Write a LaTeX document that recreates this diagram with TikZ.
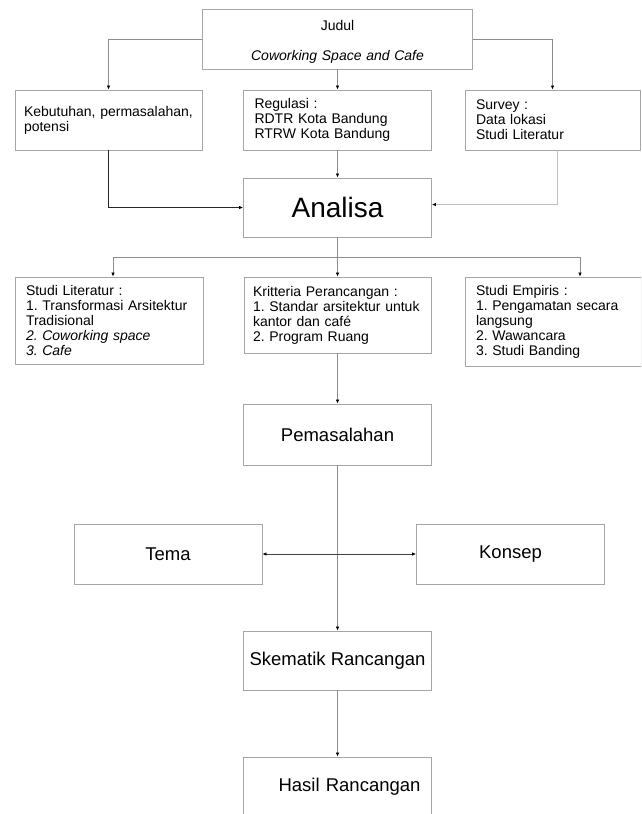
\documentclass[tikz,border=0pt]{standalone}
\usepackage{fontspec}
\setmainfont{Liberation Sans}
\usepackage{tikz}
\usetikzlibrary{arrows.meta,positioning,calc}
\frenchspacing

\newcommand{\bodyfont}{\fontsize{14}{15}\selectfont}
\newcommand{\midfont}{\fontsize{18.5}{20}\selectfont}
\newcommand{\hugefont}{\fontsize{28}{30}\selectfont}

\tikzset{
  box/.style={draw=black!35,line width=0.9pt,inner xsep=11pt,inner ysep=0pt,font=\bodyfont,align=left},
  bigbox/.style={box,inner xsep=4pt,minimum width=188pt,align=center,font=\midfont},
  wire/.style={draw=black!45,line width=0.8pt},
  conn/.style={wire,-{Latex[length=4pt,width=3.6pt,color=black]}},
  lightconn/.style={conn,draw=black!25},
  darkconn/.style={conn,draw=black!85},
  twoway/.style={draw=black!75,line width=0.8pt,{Latex[length=4pt,width=3.6pt,color=black]}-{Latex[length=4pt,width=3.6pt,color=black]}}
}

\begin{document}
\begin{tikzpicture}[x=1pt,y=-1pt]
  \useasboundingbox (0,0) rectangle (641,814);
  \clip (0,0) rectangle (641,814);
  % title
  \node[box,text width=248pt,align=center,minimum height=60pt] (judul) at (337.5,39)
    {\rule{0pt}{16pt}Judul\\[15pt]\textit{Coworking Space and Cafe}};
  % second row
  \node[box,inner xsep=9pt,text width=169pt,minimum height=60pt] (needs) at (108.5,120)
    {Kebutuhan, permasalahan,\\potensi};
  \node[box,text width=166pt,minimum height=60pt] (regulasi) at (337.5,120)
    {Regulasi :\\RDTR Kota Bandung\\RTRW Kota Bandung};
  \node[box,text width=153pt,minimum height=60pt] (survey) at (552.5,120)
    {Survey :\\Data lokasi\\Studi Literatur};
  \node[box,text width=166pt,align=center,minimum height=59pt,font=\hugefont] (analisa) at (337.5,207.5) {Analisa};
  % third row
  \node[box,text width=166pt,minimum height=87pt] (studilit) at (109,320.5)
    {Studi Literatur :\\1. Transformasi Arsitektur\\Tradisional\\\textit{2. Coworking space}\\\textit{3. Cafe}};
  \node[box,inner xsep=9pt,text width=169pt,minimum height=76pt] (kriteria) at (337.5,315)
    {Kritteria Perancangan :\\1. Standar arsitektur untuk\\kantor dan café\\2. Program Ruang};
  \node[box,text width=154pt,minimum height=89pt] (empiris) at (553,321.5)
    {Studi Empiris :\\1. Pengamatan secara\\langsung\\2. Wawancara\\3. Studi Banding};
  % lower column
  \node[bigbox,minimum height=61pt] (pemasalahan) at (337.5,434.5) {Pemasalahan};
  \node[bigbox,minimum height=60pt] (tema) at (168,554) {Tema};
  \node[bigbox,minimum height=60pt] (konsep) at (510.5,554) {Konsep};
  \node[bigbox,minimum height=59pt] (skematik) at (337.5,660.5) {Skematik Rancangan};
  \node[bigbox,text width=166pt,align=right,minimum height=60pt] (hasil) at (337.5,787) {Hasil Rancangan};
  % connectors
  \draw[conn] (judul.west) -| (needs.north);
  \draw[conn] (judul.south) -- (regulasi.north);
  \draw[conn] (judul.east) -| (survey.north);
  \draw[darkconn] (needs.south) |- (analisa.west);
  \draw[conn] (regulasi.south) -- (analisa.north);
  \draw[lightconn] ([xshift=5pt]survey.south) |- ([yshift=3pt]analisa.east);
  \coordinate (split) at (337.5,257);
  \draw[wire] (analisa.south) -- (split);
  \draw[conn] (split) -| ([xshift=4pt]studilit.north);
  \draw[conn] (split) -- (kriteria.north);
  \draw[conn] (split) -| ([xshift=27pt]empiris.north);
  \draw[conn] (kriteria.south) -- (pemasalahan.north);
  \draw[conn] (pemasalahan.south) -- (skematik.north);
  \draw[twoway] (tema.east) -- (konsep.west);
  \draw[conn] (skematik.south) -- (hasil.north);
\end{tikzpicture}
\end{document}
